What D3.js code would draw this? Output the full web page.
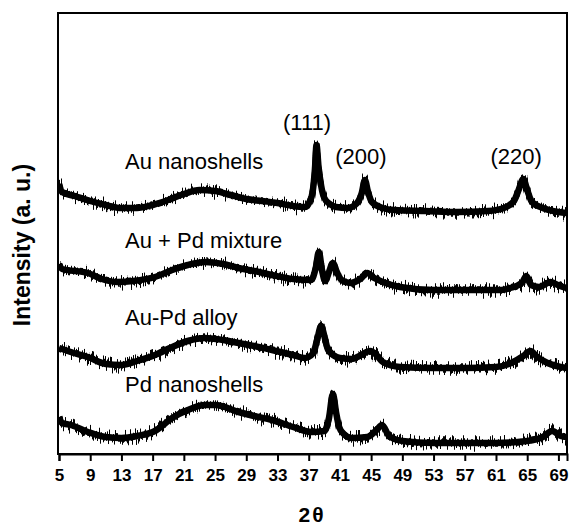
<!DOCTYPE html>
<html>
<head>
<meta charset="utf-8">
<script src="https://cdn.jsdelivr.net/npm/d3@7/dist/d3.min.js"></script>
<style>
  html, body { margin: 0; padding: 0; background: #fff; }
  svg { display: block; }
  text { font-family: "Liberation Sans", Arial, sans-serif; fill: #000; }
</style>
</head>
<body>
<svg id="chart" width="570" height="529"></svg>
<script>
// ---- data (2θ in degrees, intensity in arbitrary units) ----
const xTicks = [5, 9, 13, 17, 21, 25, 29, 33, 37, 41, 45, 49, 53, 57, 61, 65, 69];

const auNanoshells = [
  [5.0,270],[5.4,262],[7,258],[9,253],[11,249],[13,246],[15,246],[17,249],[19,254],[21,260],
  [23,264],[25,263],[27,259],[29,255],[31,253],[33,251],[35,248],[36.5,247],[37.1,252],[37.5,262],
  [37.8,285],[38.0,309],[38.25,288],[38.6,268],[39.0,256],[39.7,250],[40.5,247],[42,246],[43.2,251],
  [43.8,261],[44.2,274],[44.6,262],[45.1,252],[46.5,246],[48,244],[52,243],[56,242],[60,243],[62,246],
  [63.3,253],[63.9,264],[64.5,275],[65.0,264],[65.6,252],[67,246],[69,242],[70.1,241]
];

const auPdMixture = [
  [5,190],[5.4,185],[8.7,181],[10.5,175],[12.5,172],[14.5,173],[17.3,177],[19.5,184],[21.5,189],
  [23.7,192],[26,190],[28,186],[30,183],[32.3,179],[35,175],[37.3,174],[37.9,186],[38.3,202],
  [38.7,184],[39.1,173],[39.6,182],[40.1,191],[40.6,182],[41.2,174],[42.3,171],[43.6,175],
  [44.5,181],[45.4,176],[46.5,172],[48.7,167],[53,164],[57,164],[61.5,164],[62.8,166],[64.3,171],
  [64.9,178],[65.5,169],[66.5,167],[68,172],[69.2,168],[70.1,166]
];

const auPdAlloy = [
  [5,106],[6.5,102],[8.7,97],[11,90],[13,89],[15,93],[17.3,99],[19.5,107],[21.5,113],[23.7,116],
  [26,114],[28,111],[30,108],[32.3,104],[35,99],[36.5,96],[37.6,101],[38.1,115],[38.6,128],
  [39.0,118],[39.5,104],[41,96],[42.5,95],[43.5,98],[44.9,103],[45.8,98],[46.5,92],[48.7,87],
  [53,86],[57,86],[61,87],[63.2,92],[64.5,98],[65.4,103],[66.3,97],[67.6,91],[70.1,86]
];

const pdNanoshells = [
  [5,37],[5.4,31],[6.5,29],[8.7,22],[11,17],[13,16],[15,18],[17.3,23],[19.5,36],[21.5,44],[23.7,49],
  [25,49],[28,42],[30,38],[32.3,34],[35,27],[37.4,22],[39.0,23],[39.6,36],[40.1,60],[40.5,42],
  [40.9,27],[41.5,20],[42.5,16],[44.5,17],[45.7,24],[46.4,29],[47.3,18],[49,13],[53,11],[57,11],[61,11],
  [65,13],[67,17],[68.2,23],[69.3,18],[70.1,17]
];

const seriesNames = ["Au nanoshells", "Au + Pd mixture", "Au-Pd alloy", "Pd nanoshells"];
const seriesData = [auNanoshells, auPdMixture, auPdAlloy, pdNanoshells];
const seriesLabelY = [169, 248, 325, 392];

const peakLabels = ["(111)", "(200)", "(220)"];
const peakLabelX = [33.7, 40.4, 60.3];
const peakLabelY = [130, 164, 164];

// ---- layout ----
const svg = d3.select("#chart");
const L = 58, R = 567, T = 13, B = 454;

const x = d3.scaleLinear().domain([5, 70.1]).range([59, R]);
const y = d3.scaleLinear().domain([0, 441]).range([B, T]);

const line = d3.line()
  .x(d => x(d[0]))
  .y(d => y(d[1]))
  .curve(d3.curveMonotoneX);

const defs = svg.append("defs");
defs.append("clipPath").attr("id", "plotclip")
  .append("rect").attr("x", L).attr("y", T).attr("width", R - L).attr("height", B - T);

// rough "counting noise" texture for the traces (vertical jitter only)
const f = defs.append("filter").attr("id", "rough")
  .attr("filterUnits", "userSpaceOnUse")
  .attr("x", 0).attr("y", 0).attr("width", 570).attr("height", 529);
f.append("feTurbulence").attr("type", "fractalNoise")
  .attr("baseFrequency", "0.9 0.015").attr("numOctaves", 1).attr("seed", 3).attr("result", "noise");
f.append("feColorMatrix").attr("in", "noise").attr("type", "matrix")
  .attr("values", "0 0 0 0 0.5  0 2.2 0 0 -0.6  0 0 0 0 0  0 0 0 0 1").attr("result", "disp");
f.append("feDisplacementMap").attr("in", "SourceGraphic").attr("in2", "disp")
  .attr("scale", 11).attr("xChannelSelector", "R").attr("yChannelSelector", "G");

const g = svg.append("g").attr("clip-path", "url(#plotclip)");

// spiky noise layer
const gr = g.append("g").attr("filter", "url(#rough)");
seriesData.forEach(s => {
  gr.append("path")
    .datum(s)
    .attr("d", line)
    .attr("fill", "none")
    .attr("stroke", "#000")
    .attr("stroke-width", 5.5)
    .attr("stroke-linejoin", "round");
});
// solid core of each trace
seriesData.forEach(s => {
  g.append("path")
    .datum(s)
    .attr("d", line)
    .attr("fill", "none")
    .attr("stroke", "#000")
    .attr("stroke-width", 6.5)
    .attr("stroke-linejoin", "round");
});

// frame
svg.append("rect")
  .attr("x", L).attr("y", T)
  .attr("width", R - L).attr("height", B - T)
  .attr("fill", "none").attr("stroke", "#000").attr("stroke-width", 2);

// x axis
const xAxis = d3.axisBottom(x).tickValues(xTicks).tickSize(7).tickPadding(8).tickFormat(d3.format("d"));
const ax = svg.append("g").attr("transform", `translate(0,${B})`).call(xAxis);
ax.select(".domain").attr("stroke-width", 2);
ax.selectAll(".tick line").attr("stroke-width", 2);
ax.selectAll(".tick text")
  .attr("font-size", 17).attr("font-weight", "bold")
  .attr("font-family", "'Liberation Sans', Arial, sans-serif")
  .attr("fill", "#000");

// axis titles
svg.append("text")
  .attr("x", 312).attr("y", 522)
  .attr("text-anchor", "middle")
  .attr("font-size", 21).attr("font-weight", "bold")
  .attr("letter-spacing", 2)
  .text("2θ");

svg.append("text")
  .attr("transform", "translate(30,245) rotate(-90)")
  .attr("text-anchor", "middle")
  .attr("font-size", 23).attr("font-weight", "bold")
  .text("Intensity (a. u.)");

// series labels
seriesNames.forEach((n, i) => {
  svg.append("text")
    .attr("x", 125).attr("y", seriesLabelY[i])
    .attr("font-size", 22)
    .text(n);
});

// peak labels
peakLabels.forEach((p, i) => {
  svg.append("text")
    .attr("x", x(peakLabelX[i]))
    .attr("y", peakLabelY[i])
    .attr("font-size", 22)
    .text(p);
});
</script>
</body>
</html>
